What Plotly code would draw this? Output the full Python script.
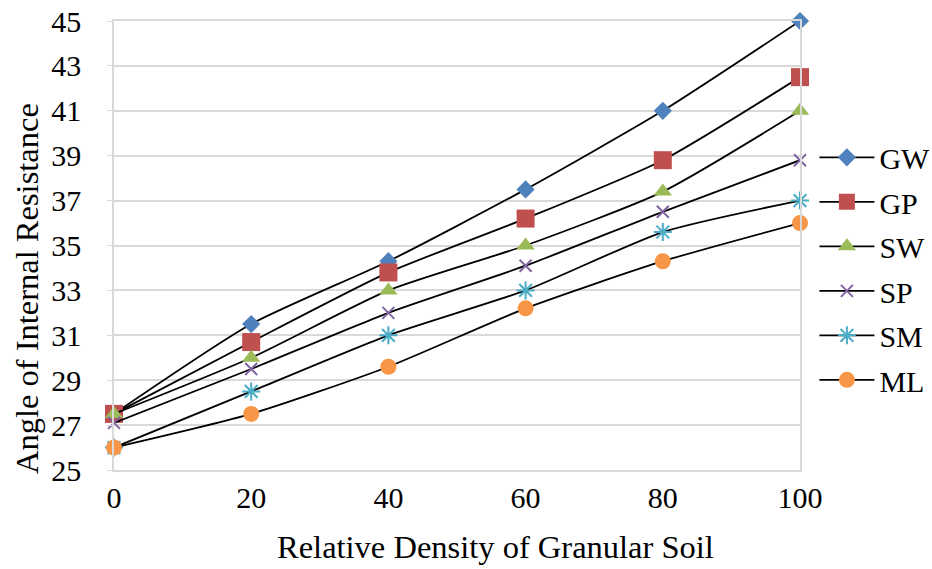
import plotly.graph_objects as go

# Relative density (%) of the granular soil
density = [0, 20, 40, 60, 80, 100]

# Angle of internal resistance (degrees) per soil type
gw = [27.5, 31.5, 34.3, 37.5, 41.0, 45.0]
gp = [27.5, 30.7, 33.8, 36.2, 38.8, 42.5]
sw = [27.5, 30.0, 33.0, 35.0, 37.4, 41.0]
sp = [27.1, 29.5, 32.0, 34.1, 36.5, 38.8]
sm = [26.0, 28.5, 31.0, 33.0, 35.6, 37.0]
ml = [26.0, 27.5, 29.6, 32.2, 34.3, 36.0]

series_names = ["GW", "GP", "SW", "SP", "SM", "ML"]
y_ticks = [25, 27, 29, 31, 33, 35, 37, 39, 41, 43, 45]
x_ticks = [0, 20, 40, 60, 80, 100]
x_title = "Relative Density of Granular Soil"
y_title = "Angle of Internal Resistance"

styles = {
    "GW": dict(symbol="diamond", color="#4F81BD", size=14),
    "GP": dict(symbol="square", color="#C0504D", size=18),
    "SW": dict(symbol="triangle-up", color="#9BBB59", size=16),
    "SP": dict(symbol="x-thin-open", color="#8064A2", size=12),
    "SM": dict(symbol="asterisk-open", color="#4BACC6", size=15),
    "ML": dict(symbol="circle", color="#F79646", size=16),
}

font_family = "Liberation Serif"
font_size = 30
title_size = 32.5

fig = go.Figure()
for name, values in zip(series_names, [gw, gp, sw, sp, sm, ml]):
    st = styles[name]
    marker = dict(symbol=st["symbol"], size=st["size"], color=st["color"])
    if st["symbol"].endswith("-open"):
        marker["line"] = dict(color=st["color"], width=2)
    else:
        marker["line"] = dict(width=0)
    fig.add_trace(go.Scatter(
        x=density, y=values, name=name, mode="lines+markers",
        line=dict(color="black", width=1.8, shape="spline", smoothing=0.6),
        marker=marker, legendgroup=name, cliponaxis=False,
    ))

# Axis titles, placed as free text in paper coordinates
fig.add_annotation(
    text=x_title, xref="paper", yref="paper", x=0.5554, y=-0.171,
    xanchor="center", yanchor="middle", showarrow=False,
    font=dict(family=font_family, size=title_size, color="black"),
)
fig.add_annotation(
    text=y_title, xref="paper", yref="paper", x=-0.1268, y=0.403,
    xanchor="center", yanchor="middle", showarrow=False, textangle=-90,
    font=dict(family=font_family, size=title_size, color="black"),
)

fig.update_layout(
    width=932, height=569,
    margin=dict(l=114, r=132, t=21, b=99, autoexpand=False),
    paper_bgcolor="white", plot_bgcolor="white",
    font=dict(family=font_family, size=font_size, color="black"),
    showlegend=True,
    legend=dict(
        x=1.021, y=0.448, xanchor="left", yanchor="middle",
        font=dict(family=font_family, size=font_size, color="black"),
        tracegroupgap=2.5, itemwidth=55, borderwidth=0,
        bgcolor="rgba(0,0,0,0)",
    ),
    xaxis=dict(
        range=[0, 100], tickvals=x_ticks, ticktext=[str(v) for v in x_ticks],
        showgrid=False, zeroline=False,
        showline=True, linecolor="#d9d9d9", linewidth=1.5, mirror=True,
        ticks="", ticklabelstandoff=0,
        tickfont=dict(family=font_family, size=font_size),
    ),
    yaxis=dict(
        range=[25, 45], tickvals=y_ticks, ticktext=[str(v) for v in y_ticks],
        showgrid=True, gridcolor="#d9d9d9", gridwidth=1.5, zeroline=False,
        showline=True, linecolor="#d9d9d9", linewidth=1.5, mirror=True,
        ticks="outside", ticklen=5, tickcolor="#d9d9d9",
        ticklabelstandoff=20,
        tickfont=dict(family=font_family, size=font_size),
    ),
)

fig.write_html("out.html")
